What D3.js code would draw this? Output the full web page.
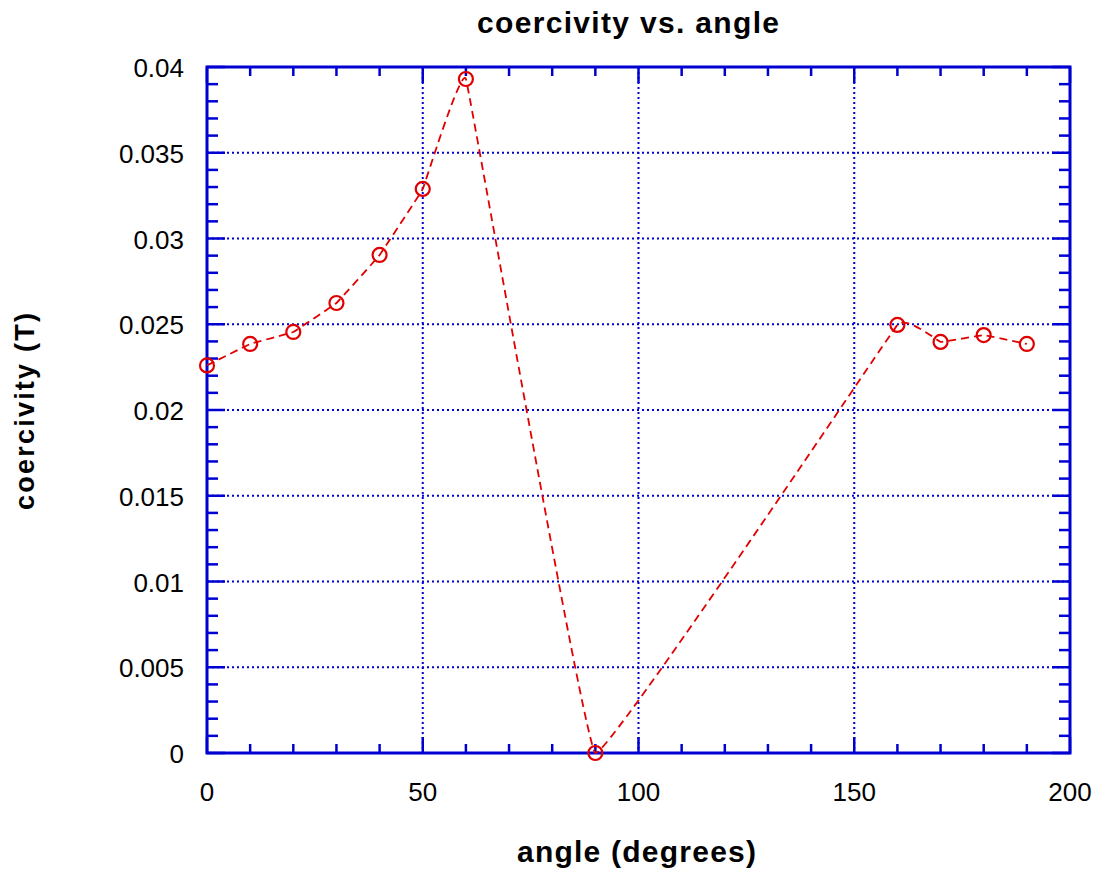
<!DOCTYPE html>
<meta charset="utf-8">
<head>
<script src="https://d3js.org/d3.v7.min.js"></script>
<style>
  body { margin: 0; background: #fff; }
  text { font-family: Arial, "Liberation Sans", sans-serif; }
  .lab { font-weight: bold; }
</style>
</head>
<body>
<svg id="chart"></svg>
<script>
// data
var angles = [0, 10, 20, 30, 40, 50, 60, 90, 160, 170, 180, 190];
var coercivity = [0.0226, 0.02385, 0.02455, 0.02624, 0.02904, 0.03289, 0.0393, 0, 0.02496, 0.02397, 0.02437, 0.02385];
var xTicks = [0, 50, 100, 150, 200];
var yTicks = [0, 0.005, 0.01, 0.015, 0.02, 0.025, 0.03, 0.035, 0.04];

var W = 1098, H = 871;
var svg = d3.select("#chart").attr("width", W).attr("height", H);

var pL = 207, pR = 1070, pT = 67, pB = 753;
var blue = "#0000d2", red = "#e00000";

var x = d3.scaleLinear().domain([0, 200]).range([pL, pR]);
var y = d3.scaleLinear().domain([0, 0.04]).range([pB, pT]);

// dotted grid
var grid = svg.append("g");
grid.selectAll(".gx").data(xTicks.slice(1, -1)).enter().append("line")
  .attr("x1", d => x(d)).attr("x2", d => x(d))
  .attr("y1", pT).attr("y2", pB)
  .attr("stroke", blue).attr("stroke-width", 2).attr("stroke-dasharray", "2,3");
grid.selectAll(".gy").data(yTicks.slice(1, -1)).enter().append("line")
  .attr("x1", pL).attr("x2", pR)
  .attr("y1", d => y(d)).attr("y2", d => y(d))
  .attr("stroke", blue).attr("stroke-width", 2).attr("stroke-dasharray", "2,3");

// ticks (major + minor), inward, on all four sides
var ax = svg.append("g").attr("stroke", blue).attr("stroke-width", 2.5);
d3.range(0, 201, 10).forEach(function(v) {
  var len = v % 50 === 0 ? 16 : 9;
  ax.append("line").attr("x1", x(v)).attr("x2", x(v)).attr("y1", pB).attr("y2", pB - len);
  ax.append("line").attr("x1", x(v)).attr("x2", x(v)).attr("y1", pT).attr("y2", pT + len);
});
d3.range(0, 41, 1).forEach(function(i) {
  var v = i / 1000;
  var len = i % 5 === 0 ? 18 : 11;
  ax.append("line").attr("x1", pL).attr("x2", pL + len).attr("y1", y(v)).attr("y2", y(v));
  ax.append("line").attr("x1", pR).attr("x2", pR - len).attr("y1", y(v)).attr("y2", y(v));
});

// frame
svg.append("rect").attr("x", pL).attr("y", pT)
  .attr("width", pR - pL).attr("height", pB - pT)
  .attr("fill", "none").attr("stroke", blue).attr("stroke-width", 3);

// tick labels
svg.selectAll(".xl").data(xTicks).enter().append("text")
  .attr("x", d => x(d)).attr("y", 801)
  .attr("text-anchor", "middle").attr("font-size", 26)
  .text(d => d);
svg.selectAll(".yl").data(yTicks).enter().append("text")
  .attr("x", 184).attr("y", d => y(d) + 10)
  .attr("text-anchor", "end").attr("font-size", 26)
  .text(d => d);

// series
var pts = angles.map((a, i) => [a, coercivity[i]]);
var line = d3.line().x(d => x(d[0])).y(d => y(d[1])).curve(d3.curveCardinal.tension(0.85));
svg.append("path").datum(pts).attr("d", line)
  .attr("fill", "none").attr("stroke", red).attr("stroke-width", 1.8)
  .attr("stroke-dasharray", "8,5");
svg.selectAll(".pt").data(pts).enter().append("circle")
  .attr("cx", d => x(d[0])).attr("cy", d => y(d[1])).attr("r", 7)
  .attr("fill", "none").attr("stroke", red).attr("stroke-width", 2.2);

// titles
svg.append("text").attr("class", "lab").attr("x", 477).attr("y", 33)
  .attr("font-size", 30).attr("textLength", 302).attr("lengthAdjust", "spacing")
  .text("coercivity vs. angle");
svg.append("text").attr("class", "lab").attr("x", 517).attr("y", 862)
  .attr("font-size", 30).attr("textLength", 239).attr("lengthAdjust", "spacing")
  .text("angle (degrees)");
svg.append("text").attr("class", "lab").attr("transform", "translate(34,510) rotate(-90)")
  .attr("font-size", 27).attr("textLength", 197).attr("lengthAdjust", "spacing")
  .text("coercivity (T)");
</script>
</body>
